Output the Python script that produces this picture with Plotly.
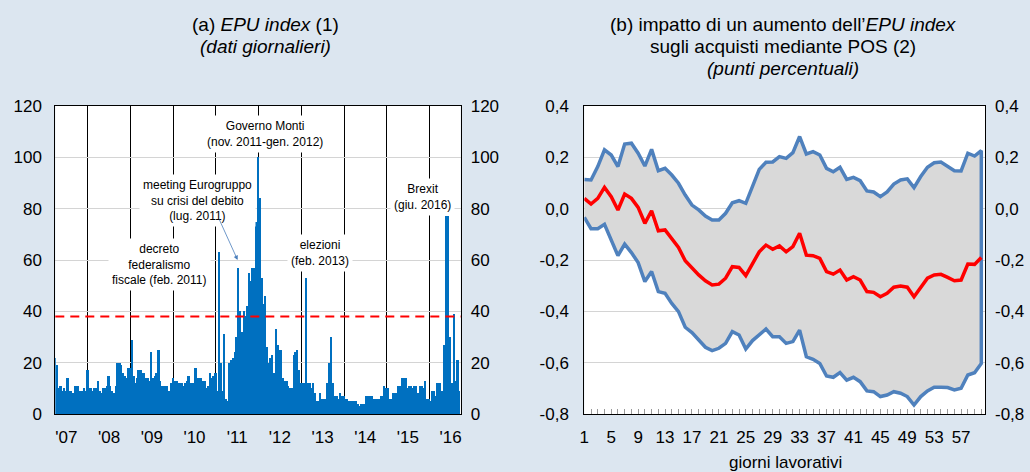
import plotly.graph_objects as go
import pandas as pd

# ---------------- data: panel (a) EPU index (semi-monthly readings of the daily series)
EPU_START = "2007-04-01"
EPU_VALUES = [
    22, 19, 10, 11, 9, 10, 9, 14, 9, 9, 8, 11, 11, 11, 9, 9, 10, 9,
    17, 10, 10, 9, 10, 10, 13, 9, 8, 10, 10, 11, 15, 11, 9, 8, 11, 20, 20, 19, 16, 15, 14, 18,
    18, 29, 15, 12, 14, 17, 17, 16, 16, 14, 14, 13, 24, 14, 15, 16, 25, 13, 11, 11, 11, 11, 9, 12,
    14, 13, 13, 12, 12, 12, 11, 12, 13, 15, 12, 12, 12, 18, 14, 14, 14, 13, 13, 10, 11, 16, 14, 15,
    16, 9, 63, 20, 9, 31, 6, 5, 20, 21, 22, 24, 30, 57, 40, 32, 40, 38, 42, 55, 52, 57, 57, 75,
    100, 84, 53, 43, 46, 26, 20, 22, 23, 16, 33, 27, 25, 25, 14, 13, 13, 11, 10, 10, 23, 24, 25, 17,
    12, 12, 12, 53, 12, 12, 10, 12, 8, 5, 5, 8, 6, 6, 6, 12, 20, 30, 12, 7, 7, 6, 8, 7,
    7, 6, 6, 5, 5, 5, 5, 5, 4, 3, 4, 4, 4, 7, 7, 7, 7, 6, 6, 6, 6, 7, 7, 11,
    10, 10, 6, 6, 8, 8, 8, 11, 11, 14, 14, 14, 10, 11, 11, 10, 11, 11, 8, 11, 11, 10, 13, 6,
    6, 5, 9, 9, 7, 12, 12, 9, 9, 27, 77, 77, 30, 12, 39, 13, 21, 9,
]
EPU_DATES = pd.date_range(EPU_START, periods=len(EPU_VALUES), freq="SMS")
THRESHOLD = 38
YEARS = list(range(2007, 2017))
YEAR_LABELS = ["'07", "'08", "'09", "'10", "'11", "'12", "'13", "'14", "'15", "'16"]
Y_LEFT_TICKS = [0, 20, 40, 60, 80, 100, 120]

# ---------------- data: panel (b) impulse response
DAYS = list(range(1, 61))
IRF_UPPER = [0.114, 0.112, 0.164, 0.229, 0.209, 0.164, 0.252, 0.255, 0.216, 0.166,
             0.231, 0.148, 0.157, 0.131, 0.099, 0.053, 0.014, -0.005, -0.029, -0.044,
             -0.044, -0.018, 0.023, 0.031, 0.021, 0.086, 0.153, 0.181, 0.182, 0.203,
             0.196, 0.218, 0.281, 0.213, 0.222, 0.209, 0.157, 0.144, 0.161, 0.114,
             0.122, 0.109, 0.069, 0.065, 0.047, 0.065, 0.096, 0.112, 0.116, 0.082,
             0.125, 0.161, 0.179, 0.182, 0.164, 0.148, 0.147, 0.216, 0.205, 0.226]
IRF_MEAN = [0.040, 0.018, 0.040, 0.083, 0.047, -0.005, 0.057, 0.040, 0.005, -0.057,
            -0.008, -0.086, -0.083, -0.116, -0.151, -0.203, -0.232, -0.258, -0.281, -0.297,
            -0.294, -0.271, -0.226, -0.229, -0.261, -0.213, -0.168, -0.142, -0.158, -0.145,
            -0.168, -0.148, -0.096, -0.181, -0.183, -0.194, -0.245, -0.255, -0.239, -0.278,
            -0.265, -0.278, -0.323, -0.326, -0.343, -0.330, -0.306, -0.301, -0.306, -0.343,
            -0.304, -0.271, -0.258, -0.256, -0.268, -0.281, -0.278, -0.216, -0.217, -0.190]
IRF_LOWER = [-0.034, -0.078, -0.078, -0.061, -0.122, -0.183, -0.138, -0.171, -0.210, -0.284,
             -0.245, -0.323, -0.330, -0.369, -0.401, -0.462, -0.483, -0.512, -0.540, -0.553,
             -0.544, -0.525, -0.479, -0.492, -0.547, -0.514, -0.492, -0.469, -0.499, -0.499,
             -0.525, -0.518, -0.473, -0.577, -0.587, -0.603, -0.652, -0.657, -0.639, -0.668,
             -0.657, -0.674, -0.710, -0.713, -0.732, -0.726, -0.713, -0.719, -0.732, -0.765,
             -0.732, -0.710, -0.696, -0.696, -0.697, -0.706, -0.700, -0.648, -0.639, -0.603]
Y_RIGHT_TICKS = [-0.8, -0.6, -0.4, -0.2, 0.0, 0.2, 0.4]
Y_RIGHT_LABELS = ["-0,8", "-0,6", "-0,4", "-0,2", "0,0", "0,2", "0,4"]
X_RIGHT_TICKS = list(range(1, 60, 4))

# ---------------- style
W, H = 1030, 472
BG = "#dce6f0"
FONT = "Liberation Sans, Arial, Helvetica, sans-serif"
BAR_BLUE = "#0070C0"
BAND_BLUE = "#4f81bd"
GRID = "#d4d4d4"


def px(x):
    return x / W


def py(y):
    return 1 - y / H


XL = [px(55.3), px(460.7)]
XR = [px(584.3), px(985.0)]
YD = [py(414), py(106)]

fig = go.Figure()

fig.add_trace(go.Bar(
    x=EPU_DATES, y=EPU_VALUES, marker=dict(color=BAR_BLUE, line=dict(width=0)),
    width=16 * 24 * 3600 * 1000, xaxis="x", yaxis="y", hoverinfo="skip",
))
fig.add_trace(go.Scatter(
    x=[EPU_DATES[0]], y=[0], mode="markers", marker=dict(opacity=0),
    xaxis="x", yaxis="y2", hoverinfo="skip", showlegend=False,
))

fig.add_trace(go.Scatter(
    x=DAYS + DAYS[::-1], y=IRF_UPPER + IRF_LOWER[::-1], mode="lines",
    fill="toself", fillcolor="#d9d9d9", line=dict(color=BAND_BLUE, width=3.5),
    xaxis="x2", yaxis="y3", hoverinfo="skip",
))
fig.add_trace(go.Scatter(
    x=DAYS, y=IRF_MEAN, mode="lines", line=dict(color="#ff0000", width=3.5),
    xaxis="x2", yaxis="y4", hoverinfo="skip",
))

tickfont = dict(family=FONT, size=17, color="black")
label_pos = pd.to_datetime([f"{y}-07-01" for y in YEARS])

fig.update_layout(
    autosize=True, margin=dict(l=0, r=0, t=0, b=0, autoexpand=False),
    paper_bgcolor=BG, plot_bgcolor="white", showlegend=False,
    font=dict(family=FONT, size=17, color="black"),
    bargap=0,
    xaxis=dict(
        domain=XL, anchor="y", type="date",
        range=["2007-03-28", "2016-09-25"],
        tickmode="array", tickvals=label_pos, ticktext=YEAR_LABELS,
        ticks="", showgrid=False, zeroline=False,
        showline=True, linecolor="black", linewidth=1, mirror=True,
        tickfont=tickfont, ticklabelstandoff=8,
        minor=dict(tick0="2008-01-01", dtick="M12", showgrid=True,
                   gridcolor="black", gridwidth=1, ticks=""),
    ),
    yaxis=dict(
        domain=YD, anchor="x", range=[0, 120], tickmode="array", tickvals=Y_LEFT_TICKS,
        ticks="", showgrid=True, gridcolor=GRID, gridwidth=1, zeroline=False,
        showline=True, linecolor="black", linewidth=1, mirror=True,
        tickfont=tickfont, ticklabelstandoff=9,
    ),
    yaxis2=dict(
        overlaying="y", side="right", anchor="x", range=[0, 120], tickmode="array",
        tickvals=Y_LEFT_TICKS, ticks="", showgrid=False, zeroline=False,
        tickfont=tickfont, ticklabelstandoff=9,
    ),
    xaxis2=dict(
        domain=XR, anchor="y3", range=[1, 60.55],
        tickmode="array", tickvals=X_RIGHT_TICKS,
        ticks="inside", ticklen=5, tickcolor="#9a9a9a",
        minor=dict(dtick=1, tick0=1, ticks="inside", ticklen=5, tickcolor="#9a9a9a"),
        showgrid=False, zeroline=False,
        showline=True, linecolor="black", linewidth=1, mirror=True,
        tickfont=tickfont, ticklabelstandoff=8,
    ),
    yaxis3=dict(
        domain=YD, anchor="x2", range=[-0.8, 0.4], tickmode="array",
        tickvals=Y_RIGHT_TICKS, ticktext=Y_RIGHT_LABELS,
        ticks="", showgrid=True, gridcolor=GRID, gridwidth=1, zeroline=False,
        showline=True, linecolor="black", linewidth=1, mirror=True,
        tickfont=tickfont, ticklabelstandoff=11,
    ),
    yaxis4=dict(
        overlaying="y3", side="right", anchor="x2", range=[-0.8, 0.4], tickmode="array",
        tickvals=Y_RIGHT_TICKS, ticktext=Y_RIGHT_LABELS,
        ticks="", showgrid=False, zeroline=False,
        tickfont=tickfont, ticklabelstandoff=9,
    ),
)

# threshold line
fig.add_shape(type="line", xref="x domain", x0=0, x1=1, yref="y", y0=THRESHOLD, y1=THRESHOLD,
              line=dict(color="#ff0000", width=2, dash="9px,6px"), layer="above")

# event labels
ann_font = dict(family=FONT, size=12, color="black")
events = [
    ("Governo Monti<br>(nov. 2011-gen. 2012)", 265, 133.5),
    ("meeting Eurogruppo<br>su crisi del debito<br>(lug. 2011)", 197, 200),
    ("decreto<br>federalismo<br>fiscale (feb. 2011)", 159, 264),
    ("elezioni<br>(feb. 2013)", 320, 253.5),
    ("Brexit<br>(giu. 2016)", 422, 196.5),
]
for text, x, y in events:
    fig.add_annotation(text=text, xref="paper", yref="paper", x=px(x), y=py(y),
                       xanchor="center", yanchor="middle", showarrow=False,
                       font=ann_font, bgcolor="white", borderpad=3)

fig.add_annotation(text="", xref="x", yref="y", x="2011-07-05", y=60,
                   ax=-19, ay=-42, showarrow=True, arrowhead=2, arrowsize=1.1,
                   arrowwidth=0.8, arrowcolor="#4a7ebb")

# titles
tfont = dict(family=FONT, size=19, color="black")
titles = [
    ("(a) <i>EPU index</i> (1)", 265, 25),
    ("<i>(dati giornalieri)</i>", 265, 47),
    ("(b) impatto di un aumento dell\u2019<i>EPU index</i>", 783, 25),
    ("sugli acquisti mediante POS (2)", 783, 47),
    ("<i>(punti percentuali)</i>", 783, 69),
]
for text, x, y in titles:
    fig.add_annotation(text=text, xref="paper", yref="paper", x=px(x), y=py(y),
                       xanchor="center", yanchor="middle", showarrow=False, font=tfont)

fig.add_annotation(text="giorni lavorativi", xref="paper", yref="paper",
                   x=px(785), y=py(462), xanchor="center", yanchor="middle",
                   showarrow=False, font=dict(family=FONT, size=17, color="black"))

POST = (
    "var gd=document.getElementById('{plot_id}');"
    "document.documentElement.style.margin='0';"
    "document.documentElement.style.overflow='hidden';"
    "document.body.style.margin='0';"
    "document.body.style.overflow='hidden';"
    "gd.style.width='100vw';gd.style.height='100vh';"
    "Plotly.Plots.resize(gd);"
)
fig.write_html("out.html", config={"displayModeBar": False},
               default_width="100vw", default_height="100vh", post_script=POST)
